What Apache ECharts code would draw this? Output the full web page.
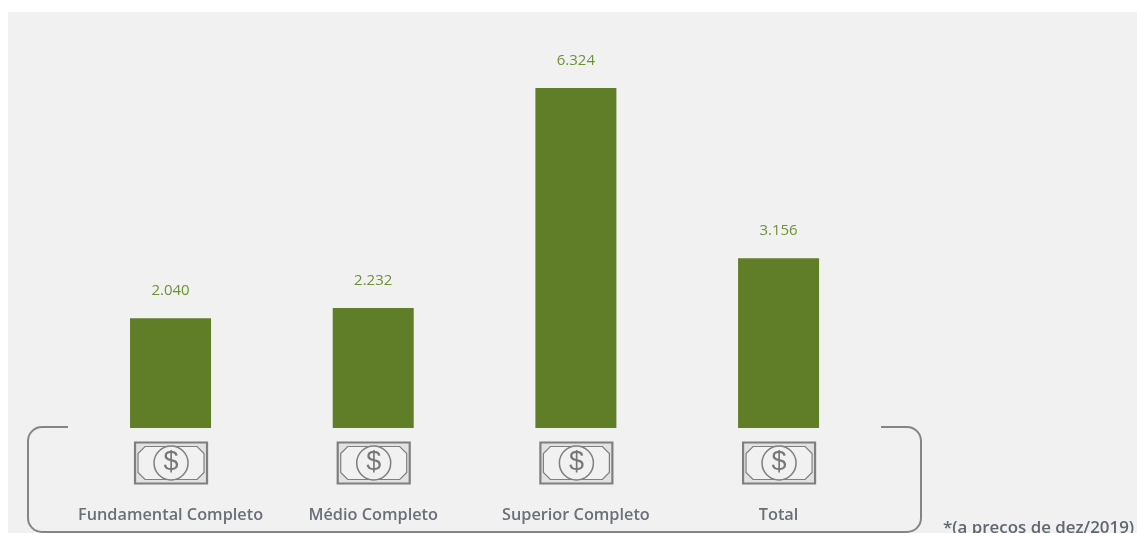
<!DOCTYPE html>
<html><head><meta charset="utf-8">
<style>html,body{margin:0;padding:0;background:#fff;overflow:hidden}#c{width:1137px;height:533px}</style>
<script src="https://cdn.jsdelivr.net/npm/echarts@6/dist/echarts.min.js"></script>
</head><body><div id="c"></div>
<script>
const categories = ['Fundamental Completo','Médio Completo','Superior Completo','Total'];
const values = [2040,2232,6324,3156];
const valueLabels = ['2.040','2.232','6.324','3.156'];
const footnote = '*(a preços de dez/2019)';
const font = '"Open Sans","Noto Sans",sans-serif';
const chart = echarts.init(document.getElementById('c'),null,{renderer:'canvas'});
const grey = '#7f7f7f';
const panel = '#f1f1f1';
function moneyIcon(params, api){
  const p = api.coord([api.value(0),0]);
  const cx = p[0]+0.5, cy = p[1]+35;
  const w=36,h=20.5,c=7;
  return {type:'group',silent:true,children:[
    {type:'rect',shape:{x:cx-w,y:cy-h,width:2*w,height:2*h},style:{stroke:grey,fill:'#e2e2e2',lineWidth:2.2}},
    {type:'polygon',shape:{points:[[cx-w+3+c,cy-h+4],[cx+w-3-c,cy-h+4],[cx+w-3,cy-h+4+c],[cx+w-3,cy+h-4-c],[cx+w-3-c,cy+h-4],[cx-w+3+c,cy+h-4],[cx-w+3,cy+h-4-c],[cx-w+3,cy-h+4+c]]},style:{stroke:grey,fill:panel,lineWidth:1.2}},
    {type:'circle',shape:{cx:cx,cy:cy,r:17},style:{stroke:grey,fill:panel,lineWidth:1.5}},
    {type:'text',x:cx,y:cy,style:{text:'$',fill:'#777',font:'400 27px "Liberation Sans Narrow","Liberation Sans",sans-serif',align:'center',verticalAlign:'middle'}}
  ]};
}
const bs = {stroke:'#858585',lineWidth:2,fill:null};
const PI = Math.PI;
const seg = (x1,y1,x2,y2)=>({type:'line',z:-5,shape:{x1,y1,x2,y2},style:bs});
const arc = (cx,cy,a,b)=>({type:'arc',z:-5,shape:{cx,cy,r:14,startAngle:a,endAngle:b,clockwise:true},style:bs});
chart.setOption({
  animation:false,
  backgroundColor:'#fff',
  grid:{left:69.2,width:810.7,top:88,height:340},
  graphic:[
    {type:'rect',z:-10,shape:{x:8,y:12,width:1129,height:521},style:{fill:panel}},
    seg(68,427,42,427),arc(42,441,PI,1.5*PI),seg(28,441,28,518),arc(42,518,0.5*PI,PI),
    seg(42,532,907,532),arc(907,518,0,0.5*PI),seg(921,518,921,441),arc(907,441,1.5*PI,2*PI),seg(907,427,881,427),
    {type:'text',x:943,y:520,style:{text:footnote,fill:'#5f6670',font:'600 16.9px '+font}}
  ],
  xAxis:{type:'category',data:categories,axisLine:{show:false},axisTick:{show:false},
    axisLabel:{margin:79,interval:0,color:'#6a7078',fontFamily:font,fontSize:16.3,fontWeight:600}},
  yAxis:{type:'value',min:0,max:6324,show:false,splitLine:{show:false}},
  series:[
    {type:'bar',data:values,barWidth:81,itemStyle:{color:'#607d28'},
     label:{show:true,position:'top',distance:20,color:'#6f9136',fontFamily:font,fontSize:15,
       formatter:p=>valueLabels[p.dataIndex]}},
    {type:'custom',data:categories.map((c,i)=>[i]),renderItem:moneyIcon,clip:false,silent:true,encode:{x:0}}
  ]
});
</script></body></html>
